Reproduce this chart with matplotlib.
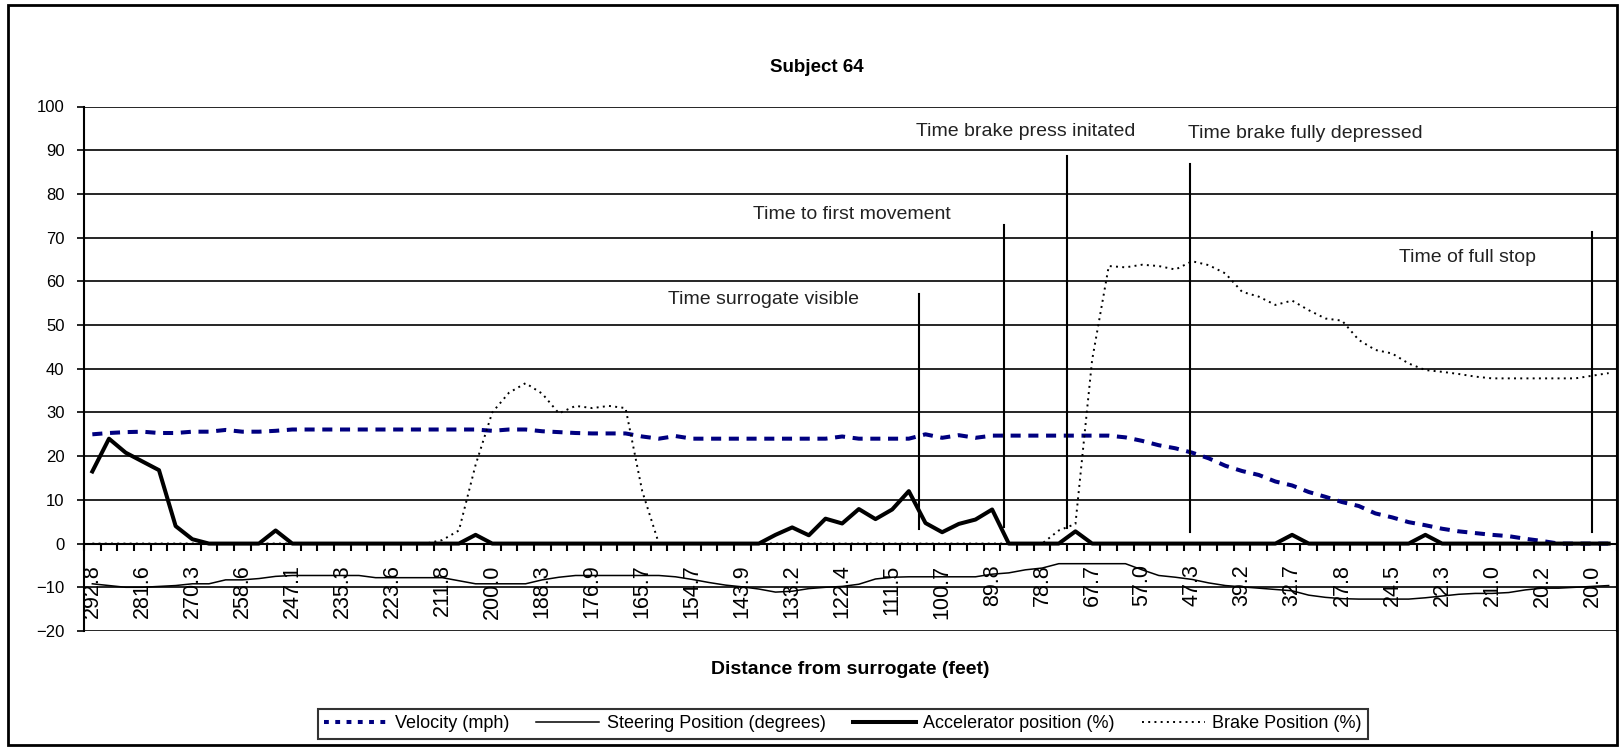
import matplotlib
matplotlib.use('Agg')
import matplotlib.pyplot as plt
from matplotlib.lines import Line2D
from matplotlib.patches import Rectangle
import numpy as np

plt.rcParams['font.family'] = ['Liberation Sans', 'DejaVu Sans']

# distance labels shown on every third category
dist_labels = ['292.8', '281.6', '270.3', '258.6', '247.1', '235.3', '223.6', '211.8',
               '200.0', '188.3', '176.9', '165.7', '154.7', '143.9', '133.2', '122.4',
               '111.5', '100.7', '89.8', '78.8', '67.7', '57.0', '47.3', '39.2',
               '32.7', '27.8', '24.5', '22.3', '21.0', '20.2', '20.0']

velocity = [25.0, 25.3, 25.5, 25.6, 25.3, 25.3, 25.6, 25.6, 26.0, 25.6,
            25.6, 25.8, 26.1, 26.1, 26.1, 26.1, 26.1, 26.1, 26.1, 26.1,
            26.1, 26.1, 26.1, 26.1, 25.8, 26.1, 26.1, 25.7, 25.5, 25.3,
            25.2, 25.2, 25.2, 24.5, 24.0, 24.6, 24.0, 24.0, 24.0, 24.0,
            24.0, 24.0, 24.0, 24.0, 24.0, 24.5, 24.0, 24.0, 24.0, 24.0,
            25.0, 24.2, 24.8, 24.2, 24.7, 24.7, 24.7, 24.7, 24.7, 24.7,
            24.7, 24.7, 24.3, 23.5, 22.5, 21.8, 20.8, 19.5, 17.8, 16.6,
            15.7, 14.2, 13.3, 11.8, 10.7, 9.5, 8.6, 6.9, 6.0, 4.9,
            4.2, 3.4, 2.8, 2.4, 2.0, 1.7, 1.1, 0.6, 0.0, 0.0,
            0.0, 0.0]

steering = [-9.2, -9.6, -10.0, -10.0, -9.8, -9.6, -9.2, -9.2, -8.3, -8.3,
            -8.0, -7.5, -7.3, -7.3, -7.3, -7.3, -7.3, -7.8, -7.8, -7.8,
            -7.8, -7.8, -8.5, -9.2, -9.2, -9.2, -9.2, -8.3, -7.7, -7.3,
            -7.3, -7.3, -7.3, -7.3, -7.3, -7.6, -8.2, -8.9, -9.5, -9.9,
            -10.4, -11.1, -10.9, -10.3, -10.0, -9.8, -9.3, -8.1, -7.7, -7.6,
            -7.6, -7.6, -7.6, -7.6, -7.0, -6.7, -6.0, -5.6, -4.6, -4.6,
            -4.6, -4.6, -4.6, -6.0, -7.3, -7.7, -8.2, -9.0, -9.6, -9.9,
            -10.2, -10.5, -10.8, -11.8, -12.3, -12.6, -12.7, -12.7, -12.7, -12.7,
            -12.4, -12.0, -11.6, -11.4, -11.4, -11.2, -10.6, -10.2, -10.2, -10.0,
            -9.8, -9.6]

accel = [16.5, 24.0, 20.8, 18.8, 16.8, 4.0, 1.0, 0, 0, 0,
         0, 3.0, 0, 0, 0, 0, 0, 0, 0, 0,
         0, 0, 0, 2.0, 0, 0, 0, 0, 0, 0,
         0, 0, 0, 0, 0, 0, 0, 0, 0, 0,
         0, 2.0, 3.7, 1.9, 5.7, 4.6, 7.9, 5.6, 7.8, 12.0,
         4.7, 2.6, 4.5, 5.5, 7.8, 0, 0, 0, 0, 2.8,
         0, 0, 0, 0, 0, 0, 0, 0, 0, 0,
         0, 0, 2.0, 0, 0, 0, 0, 0, 0, 0,
         2.0, 0, 0, 0, 0, 0, 0, 0, 0, 0,
         0, 0]

brake = [0, 0, 0, 0, 0, 0, 0, 0, 0, 0,
         0, 0, 0, 0, 0, 0, 0, 0, 0, 0,
         0, 0.8, 3.0, 18.0, 30.0, 34.5, 36.7, 34.3, 29.8, 31.5,
         31.0, 31.5, 31.0, 12.0, 0, 0, 0, 0, 0, 0,
         0, 0, 0, 0, 0, 0, 0, 0, 0, 0,
         0, 0, 0, 0, 0, 0, 0, 0, 3.0, 4.5,
         42.0, 63.5, 63.2, 63.8, 63.5, 62.7, 64.6, 63.7, 61.8, 57.6,
         56.5, 54.6, 55.6, 53.4, 51.5, 51.0, 46.6, 44.3, 43.5, 41.2,
         39.7, 39.3, 38.8, 38.2, 37.8, 37.8, 37.8, 37.8, 37.8, 37.8,
         38.4, 39.0]

x = np.arange(len(velocity))

fig = plt.figure(figsize=(16.21, 7.48), dpi=100)
ax = fig.add_axes([84/1621, 1-631/748, (1617-84)/1621, (631-106.5)/748])

ax.plot(x, velocity, color='#000080', lw=2.9, dashes=(2.5, 1.9), zorder=3)
ax.plot(x, steering, color='black', lw=1.1, zorder=3)
ax.plot(x, accel, color='black', lw=2.9, zorder=4)
ax.plot(x, brake, color='black', lw=1.4, ls=(0, (1, 2.2)), zorder=3)

ax.set_xlim(-0.5, len(x) - 0.5)
ax.set_ylim(-20, 100)
ax.set_yticks(range(-20, 101, 10))
ax.yaxis.grid(True, color='black', lw=1.2)
ax.set_axisbelow(True)
ax.tick_params(axis='y', labelsize=12, length=5, width=1.2, pad=9)

# category axis crosses at 0
ax.spines['bottom'].set_position(('data', 0))
ax.spines['bottom'].set_linewidth(1.5)
ax.spines['top'].set_visible(False)
ax.spines['left'].set_linewidth(1.5)
ax.spines['right'].set_linewidth(1.5)
ax.set_xticks(x[::3])
ax.set_xticklabels(dist_labels, rotation=90, fontsize=15.5)
ax.set_xticks(np.arange(-0.5, len(x)), minor=True)
ax.tick_params(axis='x', which='major', length=0, pad=15)
ax.tick_params(axis='x', which='minor', length=5, width=1.5, direction='out')

# event markers: label, x, line bottom, line top, text x, text y
events = [('Time surrogate visible', 49.6, 3.3, 57.0, 40.3, 55.8),
          ('Time to first movement', 54.7, 3.8, 73.0, 45.6, 75.4),
          ('Time brake press initated', 58.5, 3.5, 88.7, 56.0, 94.3),
          ('Time brake fully depressed', 65.9, 2.6, 86.8, 72.8, 93.9),
          ('Time of full stop', 90.0, 2.6, 71.2, 82.5, 65.5)]
for name, xe, y0, y1, xt, yt in events:
    ax.plot([xe, xe], [y0, y1], color='black', lw=1.5, zorder=5)
    ax.text(xt, yt, name, ha='center', va='center', fontsize=14, color='#222222')

fig.text(817/1621, 1-68/748, 'Subject 64', ha='center', va='center',
         fontsize=13.5, fontweight='bold')
fig.text(850/1621, 1-670/748, 'Distance from surrogate (feet)', ha='center',
         va='center', fontsize=14, fontweight='bold')

handles = [Line2D([], [], color='#000080', lw=2.9, dashes=(1.2, 1.6)),
           Line2D([], [], color='black', lw=1.1),
           Line2D([], [], color='black', lw=2.9),
           Line2D([], [], color='black', lw=1.4, ls=(0, (1, 2.2)))]
names = ['Velocity (mph)', 'Steering Position (degrees)',
         'Accelerator position (%)', 'Brake Position (%)']
leg = fig.legend(handles, names, loc='center', bbox_to_anchor=(843/1621, 1-724/748),
                 ncol=4, fontsize=13, frameon=True, fancybox=False, edgecolor='black',
                 handlelength=3.5, handletextpad=0.4, columnspacing=1.5,
                 borderpad=0.35)
leg.get_frame().set_linewidth(1.5)

fig.patches.append(Rectangle((8/1621, 1-745/748), (1617-8)/1621, (745-5)/748,
                             transform=fig.transFigure, fill=False, lw=2,
                             edgecolor='black'))

fig.savefig('out.png', dpi=100)
